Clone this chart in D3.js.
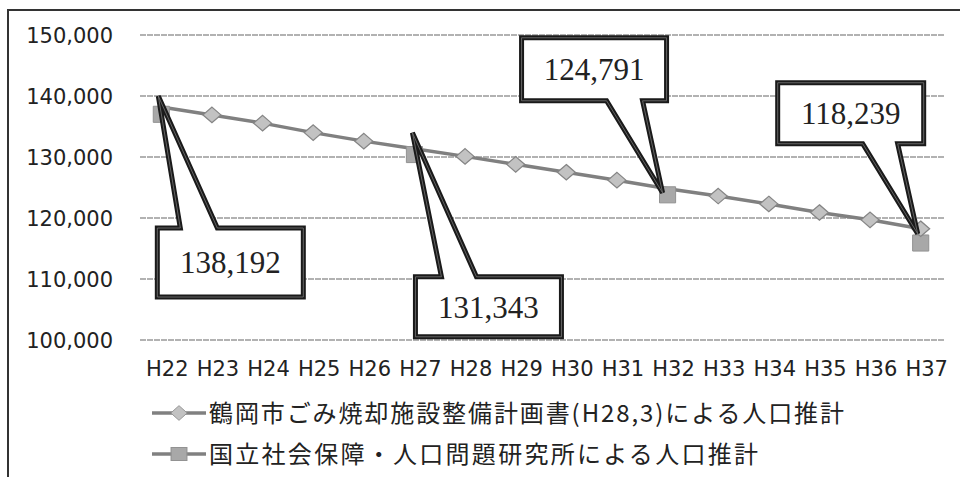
<!DOCTYPE html>
<html>
<head>
<meta charset="utf-8">
<script src="https://cdn.jsdelivr.net/npm/d3@7"></script>
<style>
  body { margin: 0; background: #fff; }
  svg { display: block; }
</style>
</head>
<body>
<div id="chart"></div>
<script>
// categories (fiscal years, Heisei)
const years = ['H22','H23','H24','H25','H26','H27','H28','H29','H30','H31','H32','H33','H34','H35','H36','H37'];
// 鶴岡市ごみ焼却施設整備計画書(H28,3)による人口推計
const planValues = [138192, 136900, 135550, 134000, 132600, 131343, 130100, 128800, 127500, 126200, 124791, 123600, 122300, 120900, 119700, 118239];
// 国立社会保障・人口問題研究所による人口推計 (5-year points only)
const ipssValues = [137000, null, null, null, null, 130400, null, null, null, null, 123800, null, null, null, null, 115900];
const yTicks = [100000, 110000, 120000, 130000, 140000, 150000];
const seriesNames = [
    '鶴岡市ごみ焼却施設整備計画書(H28,3)による人口推計',
    '国立社会保障・人口問題研究所による人口推計'
];
const calloutYears = ['H22', 'H27', 'H32', 'H37'];

const W = 960, H = 477;
const plot = {left: 136, right: 946, top: 35, bottom: 340};

const svg = d3.select('#chart').append('svg')
    .attr('width', W)
    .attr('height', H);

// outer frame (runs off the right / bottom edge like the scan)
svg.append('rect')
    .attr('x', 8).attr('y', 10)
    .attr('width', 990).attr('height', 500)
    .attr('fill', 'none')
    .attr('stroke', '#333')
    .attr('stroke-width', 2);

const x = d3.scaleBand()
    .domain(years)
    .range([plot.left, plot.right]);
const cx = d => x(d) + x.bandwidth() / 2;

const y = d3.scaleLinear()
    .domain([100000, 150000])
    .range([plot.bottom, plot.top]);

// gridlines
svg.append('g')
    .selectAll('line')
    .data(yTicks)
    .enter()
    .append('line')
    .attr('x1', 140).attr('x2', 945)
    .attr('y1', d => y(d)).attr('y2', d => y(d))
    .attr('stroke', '#666')
    .attr('stroke-width', 1.2)
    .attr('stroke-dasharray', '6,1');

// y axis labels
const fmt = d3.format(',');
svg.append('g')
    .selectAll('text')
    .data(yTicks)
    .enter()
    .append('text')
    .attr('x', 113)
    .attr('y', d => y(d))
    .attr('dy', '0.36em')
    .attr('text-anchor', 'end')
    .style('font-family', '"DejaVu Sans", sans-serif')
    .style('font-size', '21px')
    .style('fill', '#222')
    .text(d => fmt(d));

// x axis labels
svg.append('g')
    .selectAll('text')
    .data(years)
    .enter()
    .append('text')
    .attr('x', d => cx(d) + 6)
    .attr('y', 376)
    .attr('text-anchor', 'middle')
    .style('font-family', '"DejaVu Sans", sans-serif')
    .style('font-size', '21px')
    .style('fill', '#222')
    .text(d => d);

const lineColor = '#808080';

// plan line + diamonds
const planData = years.map((yr, i) => ({yr, v: planValues[i]}));
const ipssData = years.map((yr, i) => ({yr, v: ipssValues[i]}));

const line = d3.line()
    .defined(d => d.v != null)
    .x(d => cx(d.yr))
    .y(d => y(d.v));

svg.append('path')
    .attr('d', line(planData))
    .attr('fill', 'none')
    .attr('stroke', lineColor)
    .attr('stroke-width', 3.5);

const diamond = d3.symbol().type(d3.symbolDiamond2).size(170);
const square = d3.symbol().type(d3.symbolSquare2).size(330);

// squares (IPSS)
svg.append('g')
    .selectAll('path')
    .data(ipssData.filter(d => d.v != null))
    .enter()
    .append('path')
    .attr('d', square)
    .attr('transform', d => 'translate(' + cx(d.yr) + ',' + y(d.v) + ')')
    .attr('fill', '#a8a8a8')
    .attr('stroke', '#929292')
    .attr('stroke-width', 1);

svg.append('g')
    .selectAll('path')
    .data(planData.filter(d => calloutYears.indexOf(d.yr) < 0 || d.yr === 'H37'))
    .enter()
    .append('path')
    .attr('d', diamond)
    .attr('transform', d => 'translate(' + cx(d.yr) + ',' + y(d.v) + ') scale(1.1,0.95)')
    .attr('fill', '#c2c2c2')
    .attr('stroke', '#858585')
    .attr('stroke-width', 1.2);

// callouts: offsets from the labelled data point (box, pointer base, tip)
const callouts = [
    {yr: 'H22', box: [-4, 121, 146, 69], base: [19, 56], side: 'top', tip: [-3, -11]},
    {yr: 'H27', box: [1, 128, 146, 60], base: [27, 62], side: 'top', tip: [-2, -16]},
    {yr: 'H32', box: [-146, -151, 145, 63], base: [-61, -25], side: 'bottom', tip: [-5, 4]},
    {yr: 'H37', box: [-143, -146, 146, 61], base: [-58, -23], side: 'bottom', tip: [-3, 5]}
];

const cg = svg.append('g');
callouts.forEach(c => {
    const v = planValues[years.indexOf(c.yr)];
    const px = cx(c.yr), py = y(v);
    const bx = px + c.box[0], by = py + c.box[1], bw = c.box[2], bh = c.box[3];
    const tx = px + c.tip[0], ty = py + c.tip[1];
    const b0 = px + c.base[0], b1 = px + c.base[1];
    const p = d3.path();
    if (c.side === 'top') {
        p.moveTo(bx, by);
        p.lineTo(b0, by);
        p.lineTo(tx, ty);
        p.lineTo(b1, by);
        p.lineTo(bx + bw, by);
        p.lineTo(bx + bw, by + bh);
        p.lineTo(bx, by + bh);
    } else {
        p.moveTo(bx, by);
        p.lineTo(bx + bw, by);
        p.lineTo(bx + bw, by + bh);
        p.lineTo(b1, by + bh);
        p.lineTo(tx, ty);
        p.lineTo(b0, by + bh);
        p.lineTo(bx, by + bh);
    }
    p.closePath();
    cg.append('path')
        .attr('d', p.toString())
        .attr('fill', '#fff')
        .attr('stroke', '#1a1a1a')
        .attr('stroke-width', 5)
        .attr('stroke-linejoin', 'miter');
    cg.append('path')
        .attr('d', p.toString())
        .attr('fill', 'none')
        .attr('stroke', '#777')
        .attr('stroke-width', 0.8);
    cg.append('text')
        .attr('x', bx + bw / 2)
        .attr('y', by + bh / 2)
        .attr('dy', '0.35em')
        .attr('text-anchor', 'middle')
        .style('font-family', '"Liberation Serif", "DejaVu Serif", serif')
        .style('font-size', '31px')
        .style('fill', '#222')
        .text(fmt(v));
});

// legend
const legend = svg.append('g');
const legendRows = [
    {name: seriesNames[0], sym: diamond, fill: '#c2c2c2', y: 413, len: 635, scale: 'scale(1.0,0.9)'},
    {name: seriesNames[1], sym: d3.symbol().type(d3.symbolSquare2).size(240), fill: '#a8a8a8', y: 454, len: 549, scale: 'scale(1.15,0.95)'}
];
legendRows.forEach(r => {
    legend.append('line')
        .attr('x1', 152).attr('x2', 206)
        .attr('y1', r.y).attr('y2', r.y)
        .attr('stroke', lineColor)
        .attr('stroke-width', 3.5);
    legend.append('path')
        .attr('d', r.sym)
        .attr('transform', 'translate(179,' + r.y + ') ' + r.scale)
        .attr('fill', r.fill)
        .attr('stroke', '#929292')
        .attr('stroke-width', 1);
    legend.append('text')
        .attr('x', 209)
        .attr('y', r.y)
        .attr('dy', '0.36em')
        .attr('textLength', r.len)
        .attr('lengthAdjust', 'spacing')
        .style('font-family', '"Noto Sans CJK JP", sans-serif')
        .style('font-size', '24px')
        .style('fill', '#222')
        .text(r.name);
});
</script>
</body>
</html>
